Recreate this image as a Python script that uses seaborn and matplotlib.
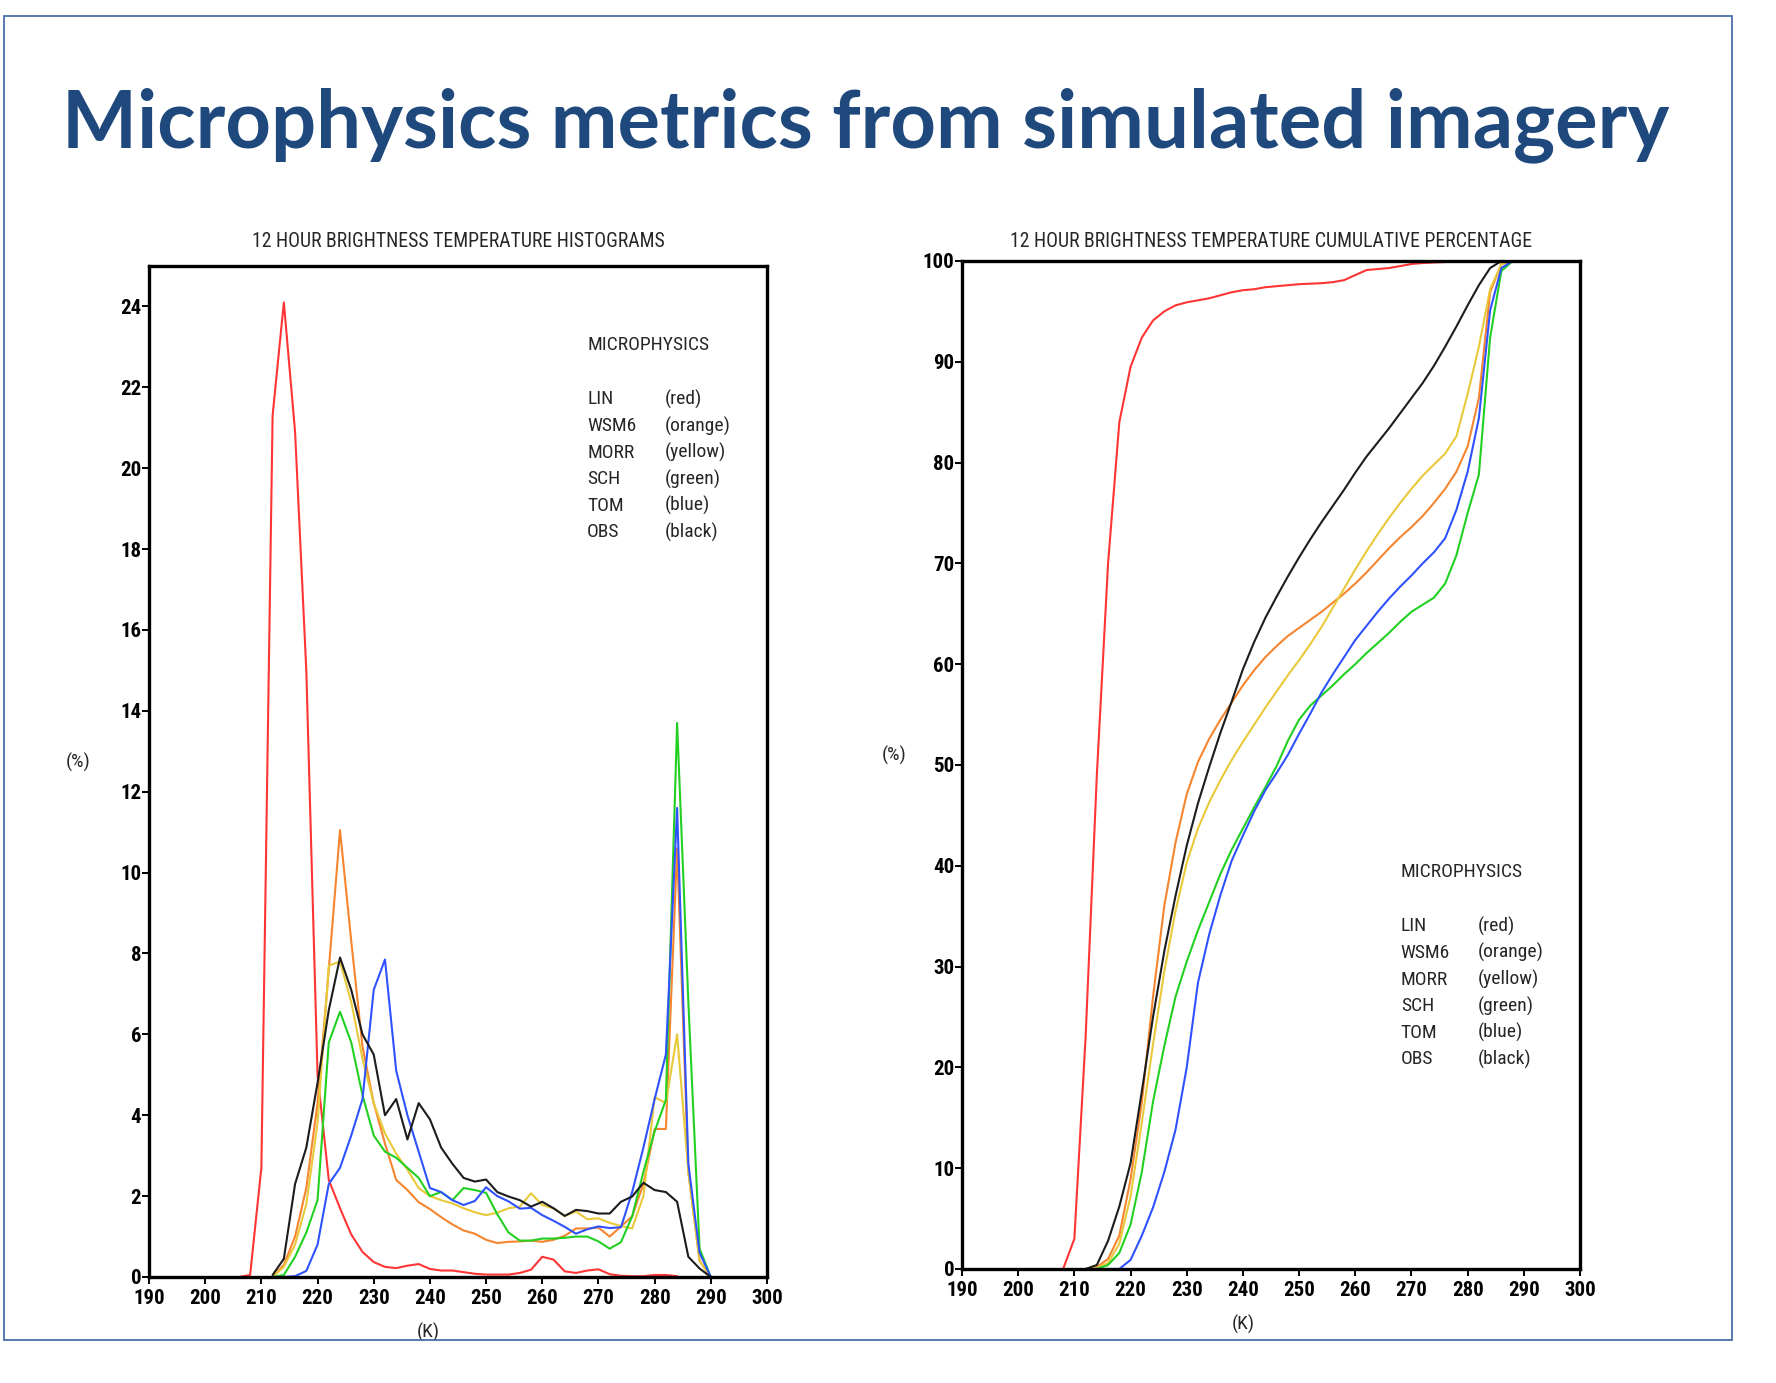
import numpy as np
import pandas as pd
import matplotlib
matplotlib.use("Agg")
import matplotlib.pyplot as plt
import seaborn as sns
from matplotlib.patches import Rectangle
from matplotlib import font_manager

# ---------------- data ----------------
models = ["LIN", "WSM6", "MORR", "SCH", "TOM", "OBS"]
color_names = ["(red)", "(orange)", "(yellow)", "(green)", "(blue)", "(black)"]
line_colors = ["#FF3535", "#F5852F", "#E8C93A", "#22D022", "#2F52FF", "#1C1C1C"]

# histogram bins (K)
hist_temp_lin = list(range(206, 286, 2))
hist_temp = list(range(212, 292, 2))

hist_lin = [0, 0.05, 2.7, 21.3, 24.1, 20.9, 15.0, 5.0, 2.4, 1.7,
            1.05, 0.62, 0.37, 0.25, 0.22, 0.28, 0.32, 0.2, 0.16, 0.16,
            0.12, 0.08, 0.06, 0.06, 0.06, 0.1, 0.18, 0.5, 0.43, 0.14,
            0.1, 0.16, 0.19, 0.07, 0.03, 0.02, 0.02, 0.05, 0.05, 0.02]
hist_wsm6 = [0, 0.3, 1.0, 2.2, 4.3, 7.6, 11.05, 8.3, 5.7, 4.3,
             3.3, 2.4, 2.15, 1.85, 1.68, 1.48, 1.3, 1.15, 1.07, 0.92,
             0.84, 0.87, 0.88, 0.9, 0.87, 0.92, 1.02, 1.2, 1.2, 1.22,
             1.0, 1.25, 1.5, 2.3, 3.66, 3.66, 10.6, 2.6, 0.4, 0]
hist_morr = [0, 0.25, 0.8, 1.8, 3.8, 7.7, 7.8, 6.8, 5.4, 4.3,
             3.55, 3.05, 2.65, 2.2, 2.0, 1.9, 1.82, 1.7, 1.6, 1.53,
             1.59, 1.7, 1.74, 2.07, 1.78, 1.7, 1.51, 1.62, 1.43, 1.45,
             1.34, 1.26, 1.2, 2.0, 4.45, 4.3, 6.0, 2.6, 0.4, 0]
hist_sch = [0, 0.05, 0.5, 1.1, 1.9, 5.8, 6.56, 5.8, 4.5, 3.5,
            3.1, 2.95, 2.7, 2.45, 2.0, 2.1, 1.9, 2.2, 2.15, 2.08,
            1.55, 1.1, 0.9, 0.9, 0.95, 0.95, 0.97, 1.0, 1.0, 0.88,
            0.7, 0.86, 1.5, 2.6, 3.6, 4.38, 13.7, 6.8, 0.7, 0]
hist_tom = [0, 0, 0.02, 0.15, 0.8, 2.3, 2.7, 3.5, 4.4, 7.1,
            7.85, 5.1, 4.0, 3.1, 2.2, 2.1, 1.9, 1.78, 1.88, 2.22,
            2.0, 1.87, 1.69, 1.71, 1.53, 1.39, 1.24, 1.07, 1.18, 1.25,
            1.21, 1.23, 2.1, 3.2, 4.4, 5.5, 11.6, 2.8, 0.6, 0]
hist_obs = [0.05, 0.45, 2.3, 3.2, 4.8, 6.6, 7.9, 7.1, 6.0, 5.5,
            4.0, 4.4, 3.4, 4.3, 3.9, 3.2, 2.8, 2.45, 2.36, 2.41,
            2.1, 1.99, 1.9, 1.74, 1.86, 1.7, 1.51, 1.66, 1.63, 1.57,
            1.57, 1.86, 1.99, 2.33, 2.15, 2.1, 1.86, 0.5, 0.21, 0]

# cumulative percentage (K)
cum_temp_lin = list(range(208, 292, 2))
cum_temp = list(range(212, 292, 2))

cum_lin = [0, 3.0, 23.0, 49.0, 70.0, 84.0, 89.5, 92.4, 94.1, 95.0,
           95.6, 95.9, 96.1, 96.3, 96.6, 96.9, 97.1, 97.2, 97.4, 97.5,
           97.6, 97.7, 97.75, 97.8, 97.9, 98.1, 98.6, 99.1, 99.2, 99.3,
           99.5, 99.7, 99.8, 99.85, 99.9, 99.95, 100, 100, 100, 100,
           100, 100]
cum_wsm6 = [0, 0.2, 1.0, 3.3, 8.9, 16.5, 27.0, 36.0, 42.3, 47.1,
            50.3, 52.6, 54.5, 56.2, 57.9, 59.4, 60.7, 61.8, 62.8, 63.6,
            64.4, 65.2, 66.1, 67.0, 68.0, 69.1, 70.3, 71.5, 72.6, 73.6,
            74.7, 76.0, 77.4, 79.1, 81.6, 86.4, 96.9, 99.7, 100, 100]
cum_morr = [0, 0.1, 0.6, 2.5, 7.2, 14.5, 22.3, 29.5, 35.5, 40.3,
            43.7, 46.3, 48.5, 50.5, 52.3, 54.0, 55.7, 57.3, 58.9, 60.4,
            62.0, 63.7, 65.6, 67.5, 69.4, 71.2, 72.9, 74.5, 76.0, 77.4,
            78.7, 79.8, 80.9, 82.6, 86.8, 91.5, 97.2, 99.7, 100, 100]
cum_sch = [0, 0, 0.4, 1.6, 4.4, 9.6, 16.6, 22.1, 27.0, 30.5,
           33.6, 36.4, 39.2, 41.6, 43.7, 45.8, 47.8, 49.9, 52.4, 54.5,
           55.9, 56.9, 57.9, 59.0, 60.0, 61.1, 62.1, 63.1, 64.2, 65.2,
           65.9, 66.6, 68.0, 70.8, 75.0, 78.8, 92.4, 99.0, 100, 100]
cum_tom = [0, 0, 0, 0, 0.9, 3.3, 6.1, 9.6, 13.8, 20.0,
           28.4, 33.2, 37.1, 40.5, 43.0, 45.4, 47.5, 49.2, 51.0, 53.1,
           55.1, 57.2, 59.0, 60.7, 62.4, 63.8, 65.2, 66.5, 67.7, 68.8,
           70.0, 71.1, 72.5, 75.3, 79.1, 84.4, 95.1, 99.3, 100, 100]
cum_obs = [0, 0.4, 2.8, 6.2, 10.5, 17.6, 25.0, 31.5, 37.0, 42.0,
           46.2, 49.8, 53.2, 56.3, 59.5, 62.2, 64.6, 66.7, 68.7, 70.6,
           72.4, 74.1, 75.7, 77.3, 79.0, 80.6, 82.0, 83.4, 84.9, 86.4,
           87.9, 89.6, 91.5, 93.5, 95.6, 97.6, 99.3, 100, 100, 100]

x_ticks = list(range(190, 301, 10))
hist_y_ticks = list(range(0, 25, 2))
cum_y_ticks = list(range(0, 101, 10))

main_title = "Microphysics metrics from simulated imagery"
hist_title = "12 HOUR BRIGHTNESS TEMPERATURE HISTOGRAMS"
cum_title = "12 HOUR BRIGHTNESS TEMPERATURE CUMULATIVE PERCENTAGE"
y_label = "(%)"
x_label = "(K)"
legend_title = "MICROPHYSICS"


def long_frame(temps, series):
    rows = []
    for m, t, vals in zip(models, temps, series):
        for tt, vv in zip(t, vals):
            rows.append((m, tt, vv))
    return pd.DataFrame(rows, columns=["model", "T", "value"])


hist_df = long_frame([hist_temp_lin] + [hist_temp] * 5,
                     [hist_lin, hist_wsm6, hist_morr, hist_sch, hist_tom, hist_obs])
cum_df = long_frame([cum_temp_lin] + [cum_temp] * 5,
                    [cum_lin, cum_wsm6, cum_morr, cum_sch, cum_tom, cum_obs])

# ---------------- style ----------------
sns.set_theme(style="ticks")
available = {f.name for f in font_manager.fontManager.ttflist}
condensed = None
for cand in ["Liberation Sans Narrow", "DejaVu Sans Condensed", "Roboto Condensed",
             "Open Sans Condensed", "Noto Sans Condensed"]:
    if cand in available:
        condensed = cand
        break
if condensed:
    plt.rcParams["font.family"] = [condensed, "DejaVu Sans"]
    k = 1.0
else:
    plt.rcParams["font.family"] = ["DejaVu Sans"]
    k = 0.86

W, H = 1776, 1383
fig = plt.figure(figsize=(W / 100, H / 100), dpi=100)
fig.patch.set_facecolor("white")

# slide frame
fig.patches.append(Rectangle((4 / W, 1 - 1340 / H), (1732 - 4) / W, (1340 - 16) / H,
                             transform=fig.transFigure, fill=False,
                             edgecolor="#4A6FA5", linewidth=1.3))

# main title
t = fig.text(62 / W, 1 - 147 / H, main_title, ha="left", va="baseline",
             fontsize=60, fontweight="bold", color="#1F497D",
             family=["Lato", "DejaVu Sans"])
fig.canvas.draw()
bb = t.get_window_extent()
t.set_fontsize(60 * 1605 / bb.width)

palette = dict(zip(models, line_colors))
txt_size = 14 * k
title_size = 14.2 * k
tick_size = 15 if condensed else 12


def style_axes(ax, xlabel_x):
    for s in ax.spines.values():
        s.set_linewidth(2.4)
        s.set_color("black")
        s.set_visible(True)
    ax.set_xlim(190, 300)
    ax.set_xticks(x_ticks)
    ax.tick_params(axis="both", direction="out", length=5, width=1.4,
                   colors="black", labelsize=tick_size)
    ax.tick_params(axis="x", pad=3.5)
    ax.tick_params(axis="y", pad=0.5)
    ax.tick_params(top=False, right=False)
    for lab in ax.get_xticklabels() + ax.get_yticklabels():
        lab.set_fontweight("bold")
    ax.set_xlabel(x_label, fontsize=txt_size)
    ax.xaxis.set_label_coords(xlabel_x, -0.045)
    ax.set_ylabel(y_label, fontsize=txt_size, rotation=0)
    ax.set_facecolor("white")


def draw_legend(ax, x0, x1, y0, dy):
    ax.text(x0, y0, legend_title, transform=ax.transAxes, fontsize=txt_size,
            ha="left", va="center")
    for i, (m, c) in enumerate(zip(models, color_names)):
        y = y0 - 0.054 - i * dy
        ax.text(x0, y, m, transform=ax.transAxes, fontsize=txt_size, ha="left", va="center")
        ax.text(x1, y, c, transform=ax.transAxes, fontsize=txt_size, ha="left", va="center")


# left: histograms
ax1 = fig.add_axes([149 / W, 1 - 1277 / H, 618 / W, 1011 / H])
sns.lineplot(data=hist_df, x="T", y="value", hue="model", palette=palette,
             estimator=None, sort=False, legend=False, linewidth=1.5, ax=ax1)
ax1.set_ylim(0, 25)
ax1.set_yticks(hist_y_ticks)
style_axes(ax1, 0.452)
ax1.yaxis.set_label_coords(-0.115, 0.5)
ax1.set_title(hist_title, fontsize=title_size, pad=14)
draw_legend(ax1, 0.709, 0.835, 0.922, 0.0263)

# right: cumulative
ax2 = fig.add_axes([962 / W, 1 - 1269 / H, 618 / W, 1008 / H])
sns.lineplot(data=cum_df, x="T", y="value", hue="model", palette=palette,
             estimator=None, sort=False, legend=False, linewidth=1.5, ax=ax2)
ax2.set_ylim(0, 100)
ax2.set_yticks(cum_y_ticks)
style_axes(ax2, 0.455)
ax2.yaxis.set_label_coords(-0.11, 0.5)
ax2.set_title(cum_title, fontsize=title_size, pad=10)
draw_legend(ax2, 0.710, 0.835, 0.394, 0.0264)

fig.savefig("out.png", dpi=100, facecolor="white")
